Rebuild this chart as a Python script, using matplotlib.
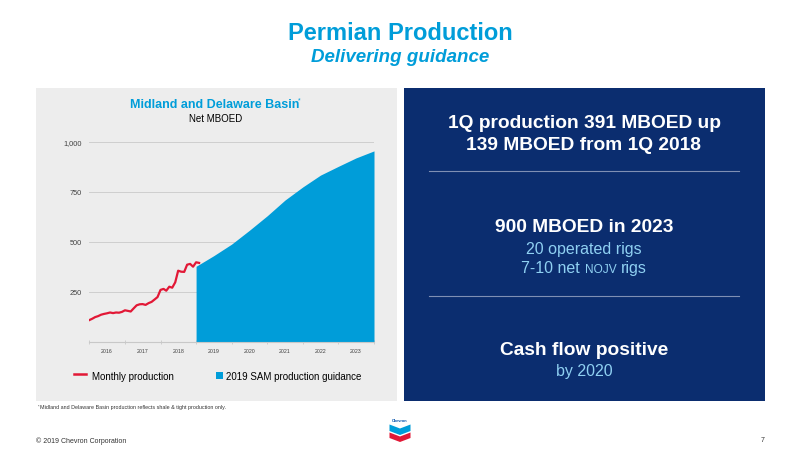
# permian_production.py - Permian production slide (Midland & Delaware Basin)
# rebuilds the slide: production history + guidance area, plus the blue text panel

import matplotlib
matplotlib.use('Agg')
import matplotlib.pyplot as plt
import matplotlib.dates as mdates
from matplotlib.patches import Rectangle, Polygon
from matplotlib.lines import Line2D
import pandas as pd

plt.rcParams['font.family'] = ['Liberation Sans', 'DejaVu Sans']

# monthly net production, MBOED, Jan 2016 .. Feb 2019
monthly_start = '2016-01-01'
monthly_prod = [111, 118, 126, 131, 138, 142, 145, 149, 146, 149, 148, 152,
                160, 157, 154, 170, 185, 190, 191, 187, 196, 202, 214, 226,
                262, 267, 258, 278, 273, 300, 358, 353, 352, 388, 392, 378,
                400, 397]

# 2019 SAM guidance, read every half year
guidance_dates = ['2019-01-01', '2019-07-01', '2020-01-01', '2020-07-01',
                  '2021-01-01', '2021-07-01', '2022-01-01', '2022-07-01',
                  '2023-01-01', '2023-07-01', '2024-01-01']
guidance_vals = [380, 433, 491, 560, 633, 711, 777, 836, 880, 922, 957]

ytick_vals = [250, 500, 750, 1000]

# colours
BLUE = '#009dd9'
RED = '#e21836'
NAVY = '#0b2d6f'
PANEL_GRAY = '#ededed'
LIGHT_BLUE = '#8fd0f2'

W, H = 800, 450


def fx(px):
    return px / W


def fy(py):
    return 1 - py / H


fig = plt.figure(figsize=(8, 4.5), dpi=100)
fig.patch.set_facecolor('white')

# background panels
fig.add_artist(Rectangle((fx(36), fy(401)), (396.5 - 36) / W, (401 - 87.5) / H,
                         transform=fig.transFigure, facecolor=PANEL_GRAY,
                         edgecolor='none', zorder=0))
fig.add_artist(Rectangle((fx(404), fy(401)), (764.5 - 404) / W, (401 - 87.5) / H,
                         transform=fig.transFigure, facecolor=NAVY,
                         edgecolor='none', zorder=0))

# slide title
fig.text(0.5, fy(33), 'Permian Production', ha='center', va='center',
         fontsize=17, fontweight='bold', color=BLUE)
fig.text(0.5, fy(58), 'Delivering guidance', ha='center', va='center',
         fontsize=13.5, fontweight='bold', fontstyle='italic', color=BLUE)

# chart
ax = fig.add_axes([fx(89.3), fy(342.3), (374 - 89.3) / W, (342.3 - 142.3) / H])
ax.set_facecolor('none')

prod_dates = pd.date_range(monthly_start, periods=len(monthly_prod), freq='MS')
g_dates = pd.to_datetime(guidance_dates)

ax.fill_between(g_dates, guidance_vals, 0, color=BLUE, linewidth=0, zorder=2)
ax.plot(prod_dates, monthly_prod, color=RED, linewidth=1.6, zorder=3)

ax.set_xlim(pd.Timestamp('2016-01-01'), pd.Timestamp('2024-01-01'))
ax.set_ylim(0, 1000)

for s in ['top', 'right', 'left']:
    ax.spines[s].set_visible(False)
ax.spines['bottom'].set_color('#c8c8c8')
ax.spines['bottom'].set_linewidth(0.8)

ax.set_yticks(ytick_vals)
ax.set_yticklabels([f'{v:,}' for v in ytick_vals])
ax.tick_params(axis='y', length=0, pad=5.3, labelsize=5.3, labelcolor='#404040')
ax.grid(axis='y', color='#cfcfcf', linewidth=0.7, zorder=1)
ax.set_axisbelow(True)

ax.xaxis.set_major_locator(mdates.YearLocator())
ax.xaxis.set_major_formatter(plt.NullFormatter())
ax.xaxis.set_minor_locator(mdates.MonthLocator(bymonth=7))
ax.xaxis.set_minor_formatter(mdates.DateFormatter('%Y'))
ax.tick_params(axis='x', which='major', length=2.5, width=0.6, color='#c8c8c8',
               direction='inout')
ax.tick_params(axis='x', which='minor', length=0, pad=5, labelsize=3.8,
               labelcolor='#404040')

# chart heading
fig.text(fx(215), fy(105.5), 'Midland and Delaware Basin', ha='center',
         va='center', fontsize=9, fontweight='bold', color=BLUE)
fig.text(fx(299.5), fy(101), '*', ha='center', va='center', fontsize=5,
         color=BLUE)
fig.text(fx(216), fy(119), 'Net MBOED', ha='center', va='center', fontsize=7,
         color='black')

# legend
fig.add_artist(Line2D([fx(74), fx(86)], [fy(373.5), fy(373.5)], color=RED,
                      linewidth=1.8, transform=fig.transFigure))
fig.text(fx(91.5), fy(376.5), 'Monthly production', ha='left', va='center',
         fontsize=7, color='black')
fig.add_artist(Rectangle((fx(215.7), fy(379)), 7 / W, 7 / H,
                         transform=fig.transFigure, facecolor=BLUE,
                         edgecolor='none'))
fig.text(fx(226.5), fy(376.5), '2019 SAM production guidance', ha='left',
         va='center', fontsize=7, color='black')

# right panel text
cx = fx(584)
fig.text(cx, fy(123.5), '1Q production 391 MBOED up', ha='center', va='center',
         fontsize=13.8, fontweight='bold', color='white')
fig.text(cx, fy(145.5), '139 MBOED from 1Q 2018', ha='center', va='center',
         fontsize=13.8, fontweight='bold', color='white')
fig.add_artist(Line2D([fx(429), fx(739)], [fy(171), fy(171)], color='#7f8fb4',
                      linewidth=0.8, transform=fig.transFigure))

fig.text(cx, fy(227), '900 MBOED in 2023', ha='center', va='center',
         fontsize=13.8, fontweight='bold', color='white')
fig.text(cx, fy(249.5), '20 operated rigs', ha='center', va='center',
         fontsize=11.5, color=LIGHT_BLUE)

# "7-10 net NOJV rigs" with NOJV in small caps -> three pieces laid out by hand
pieces = [('7-10 net', 11.5), ('NOJV', 8.6), ('rigs', 11.5)]
renderer = fig.canvas.get_renderer()
space = 0.278 * 11.5 * 100 / 72
texts = []
widths = []
for s, size in pieces:
    t = fig.text(0, fy(268), s, ha='left', va='baseline', fontsize=size,
                 color=LIGHT_BLUE)
    texts.append(t)
    widths.append(t.get_window_extent(renderer).width)
total = sum(widths) + space * (len(pieces) - 1)
x0 = 584 - total / 2
for t, w in zip(texts, widths):
    t.set_x(fx(x0))
    x0 += w + space
for t in texts:
    t.set_y(fy(273))

fig.add_artist(Line2D([fx(429), fx(739)], [fy(295.5), fy(295.5)], color='#7f8fb4',
                      linewidth=0.8, transform=fig.transFigure))

fig.text(cx, fy(350.5), 'Cash flow positive', ha='center', va='center',
         fontsize=13.8, fontweight='bold', color='white')
fig.text(cx, fy(371.5), 'by 2020', ha='center', va='center', fontsize=11.5,
         color=LIGHT_BLUE)

# footnote and footer
fig.text(fx(38), fy(407), '*', ha='left', va='center', fontsize=2.8,
         color='#333333')
fig.text(fx(39.5), fy(407.5), 'Midland and Delaware Basin production reflects '
         'shale & tight production only.', ha='left', va='center',
         fontsize=3.9, color='#333333')
fig.text(fx(36), fy(441), '\u00a9 2019 Chevron Corporation', ha='left',
         va='center', fontsize=5, color='#333333')
fig.text(fx(763), fy(441), '7', ha='center', va='center', fontsize=5,
         color='#333333')

# little chevron logo
fig.text(fx(400), fy(421.5), 'Chevron', ha='center', va='center', fontsize=2.8,
         fontweight='bold', color='#0050aa')
blue_band = [(389.5, 424.5), (400, 428.5), (410.5, 424.5), (410.5, 431),
             (400, 435), (389.5, 431)]
red_band = [(389.5, 432.5), (400, 436.5), (410.5, 432.5), (410.5, 438),
            (400, 442), (389.5, 438)]
fig.add_artist(Polygon([(fx(a), fy(b)) for a, b in blue_band], closed=True,
                       transform=fig.transFigure, facecolor=BLUE,
                       edgecolor='none'))
fig.add_artist(Polygon([(fx(a), fy(b)) for a, b in red_band], closed=True,
                       transform=fig.transFigure, facecolor=RED,
                       edgecolor='none'))

fig.savefig('out.png', dpi=100)
